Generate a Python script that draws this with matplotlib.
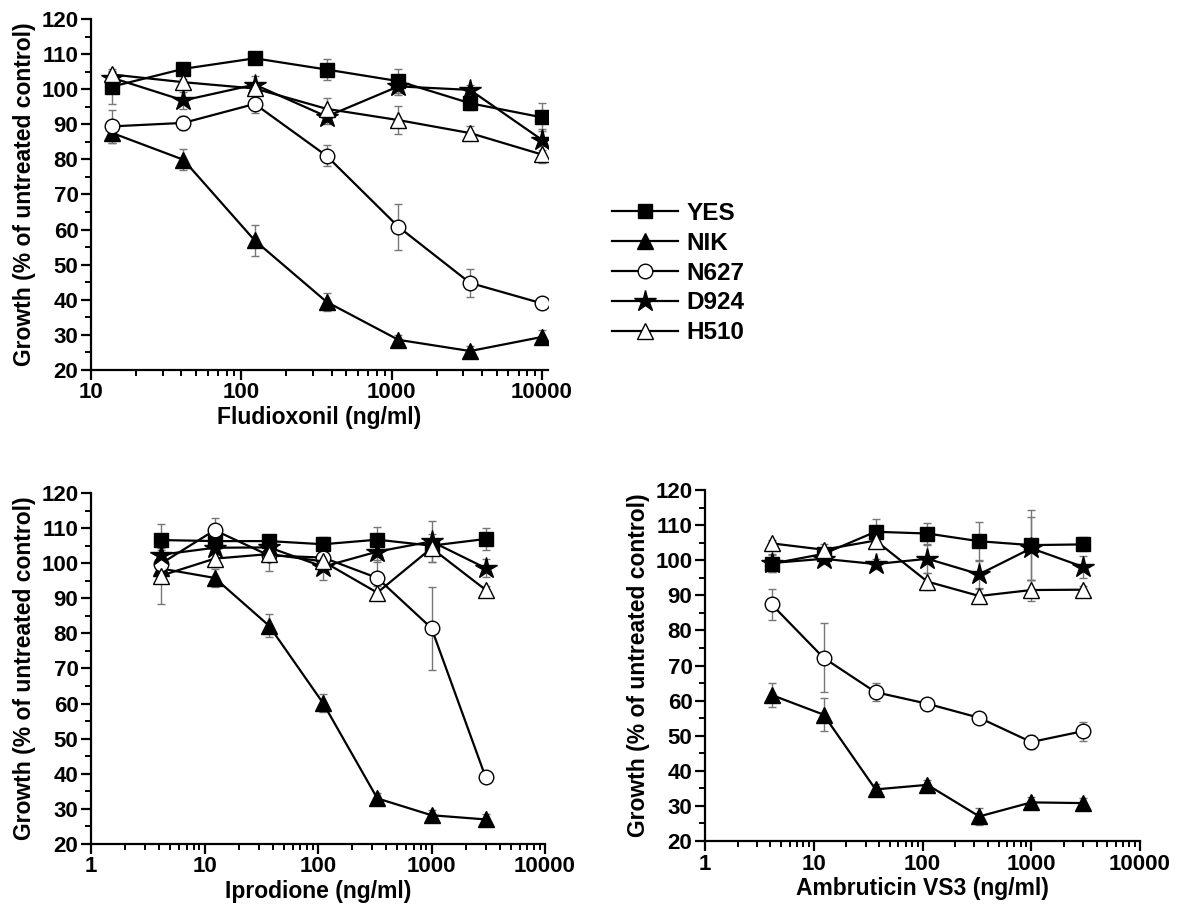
import numpy as np
import matplotlib
matplotlib.use('Agg')
from matplotlib import pyplot as plt
from matplotlib.ticker import MultipleLocator, LogLocator, FixedLocator, FixedFormatter, NullFormatter

plt.rcParams['font.family'] = ['Liberation Sans', 'DejaVu Sans']
plt.rcParams['font.weight'] = 'bold'

strains = ['YES', 'NIK', 'N627', 'D924', 'H510']

# Fludioxonil
flu_x = [13.7, 41.2, 123, 370, 1111, 3333, 10000]
flu_yes = [100.7, 105.8, 108.8, 105.6, 102.3, 96.0, 92.0]
flu_nik = [87.6, 79.9, 56.9, 39.4, 28.6, 25.4, 29.4]
flu_n627 = [89.4, 90.4, 95.8, 81.0, 60.8, 44.8, 39.0]
flu_d924 = [103.3, 96.8, 101.3, 92.2, 100.8, 99.8, 85.6]
flu_h510 = [104.2, 102.0, 100.2, 94.4, 91.2, 87.5, 81.4]
flu_yes_err = [5.0, 1.0, 1.0, 3.0, 3.5, 2.0, 4.0]
flu_nik_err = [3.0, 3.0, 4.3, 2.5, 1.5, 1.5, 2.0]
flu_n627_err = [4.8, 2.0, 2.5, 3.0, 6.5, 4.0, 1.0]
flu_d924_err = [1.5, 2.5, 2.5, 2.0, 2.5, 1.5, 3.0]
flu_h510_err = [1.0, 1.0, 1.0, 3.0, 4.0, 2.0, 2.5]

# Iprodione
ipr_x = [4.1, 12.3, 37, 111, 333, 1000, 3000]
ipr_yes = [106.6, 106.3, 106.3, 105.4, 106.7, 105.0, 106.9]
ipr_nik = [98.5, 95.8, 82.2, 60.1, 33.0, 28.2, 27.0]
ipr_n627 = [99.8, 109.4, 102.2, 101.6, 95.8, 81.5, 39.0]
ipr_d924 = [102.4, 104.4, 104.5, 99.0, 103.3, 106.2, 98.6]
ipr_h510 = [96.4, 101.3, 102.6, 100.5, 91.6, 104.3, 92.4]
ipr_yes_err = [4.5, 2.0, 1.0, 2.0, 3.5, 1.5, 3.0]
ipr_nik_err = [1.5, 2.5, 3.2, 2.5, 1.5, 1.5, 1.5]
ipr_n627_err = [2.0, 3.5, 4.3, 2.0, 5.0, 11.8, 1.0]
ipr_d924_err = [1.5, 1.5, 1.5, 3.8, 3.0, 5.8, 2.5]
ipr_h510_err = [8.0, 2.5, 1.5, 2.0, 2.0, 4.0, 1.0]

# Ambruticin VS3
amb_x = [4.1, 12.3, 37, 111, 333, 1000, 3000]
amb_yes = [99.0, 101.8, 108.1, 107.6, 105.4, 104.3, 104.5]
amb_nik = [61.6, 56.0, 34.7, 36.0, 27.0, 31.0, 30.8]
amb_n627 = [87.4, 72.2, 62.4, 59.1, 55.1, 48.2, 51.3]
amb_d924 = [99.2, 100.4, 98.9, 100.4, 96.0, 103.4, 98.1]
amb_h510 = [104.8, 103.0, 105.6, 93.9, 89.8, 91.5, 91.6]
amb_yes_err = [2.5, 1.0, 3.5, 3.0, 5.5, 10.0, 2.0]
amb_nik_err = [3.5, 4.8, 1.5, 1.5, 2.5, 1.5, 1.5]
amb_n627_err = [4.3, 9.8, 2.5, 1.0, 1.5, 2.0, 2.7]
amb_d924_err = [2.5, 1.5, 1.5, 4.0, 4.0, 9.0, 3.2]
amb_h510_err = [1.0, 1.5, 1.5, 2.5, 2.0, 3.0, 1.0]

styles = {
    'YES': dict(marker='s', ms=9.5, mfc='black', mec='black'),
    'NIK': dict(marker='^', ms=11.5, mfc='black', mec='black'),
    'N627': dict(marker='o', ms=10.5, mfc='white', mec='black', mew=1.0),
    'D924': dict(marker='*', ms=16, mfc='black', mec='black'),
    'H510': dict(marker='^', ms=11.5, mfc='white', mec='black', mew=1.0),
}

fig = plt.figure(figsize=(12, 9.22), dpi=100)
ax1 = fig.add_axes([91 / 1200, 1 - 370 / 922, 457 / 1200, 351 / 922])
ax2 = fig.add_axes([91 / 1200, 1 - 844 / 922, 454 / 1200, 351 / 922])
ax3 = fig.add_axes([705 / 1200, 1 - 841 / 922, 435 / 1200, 351 / 922])


def draw(ax, x, ys, errs, xlabel, xlim, xticks):
    for name, y, e in zip(strains, ys, errs):
        ax.errorbar(x, y, yerr=e, fmt='none', ecolor='#777777', elinewidth=1,
                    capsize=3, capthick=1, zorder=1)
    for name, y in zip(strains, ys):
        ax.plot(x, y, color='black', lw=1.6, label=name, zorder=3, **styles[name])
    ax.set_xscale('log')
    ax.set_xlim(*xlim)
    ax.set_ylim(20, 120)
    ax.xaxis.set_major_locator(FixedLocator(xticks))
    ax.xaxis.set_major_formatter(FixedFormatter([str(t) for t in xticks]))
    ax.xaxis.set_minor_locator(LogLocator(base=10, subs=np.arange(2, 10)))
    ax.xaxis.set_minor_formatter(NullFormatter())
    ax.yaxis.set_major_locator(MultipleLocator(10))
    ax.yaxis.set_minor_locator(MultipleLocator(5))
    for s in ['top', 'right']:
        ax.spines[s].set_visible(False)
    for s in ['left', 'bottom']:
        ax.spines[s].set_linewidth(1.6)
    ax.tick_params(which='major', direction='out', length=7, width=1.6, labelsize=16, pad=2)
    ax.tick_params(which='minor', direction='out', length=4, width=1.4)
    ax.set_xlabel(xlabel, fontsize=16.5, fontweight='bold', labelpad=2)
    ax.set_ylabel('Growth (% of untreated control)', fontsize=16.5, fontweight='bold', labelpad=4)


draw(ax1, flu_x, [flu_yes, flu_nik, flu_n627, flu_d924, flu_h510],
     [flu_yes_err, flu_nik_err, flu_n627_err, flu_d924_err, flu_h510_err],
     'Fludioxonil (ng/ml)', (10, 11000), [10, 100, 1000, 10000])
draw(ax2, ipr_x, [ipr_yes, ipr_nik, ipr_n627, ipr_d924, ipr_h510],
     [ipr_yes_err, ipr_nik_err, ipr_n627_err, ipr_d924_err, ipr_h510_err],
     'Iprodione (ng/ml)', (1, 10000), [1, 10, 100, 1000, 10000])
draw(ax3, amb_x, [amb_yes, amb_nik, amb_n627, amb_d924, amb_h510],
     [amb_yes_err, amb_nik_err, amb_n627_err, amb_d924_err, amb_h510_err],
     'Ambruticin VS3 (ng/ml)', (1, 10000), [1, 10, 100, 1000, 10000])

handles, labels = ax1.get_legend_handles_labels()
fig.legend(handles, labels, loc='upper left', bbox_to_anchor=(612 / 1200, 1 - 202 / 922),
           frameon=False, fontsize=17.5, handlelength=2.7, handletextpad=0.35,
           labelspacing=0.28, borderpad=0, borderaxespad=0)

fig.savefig('out.png', dpi=100)
